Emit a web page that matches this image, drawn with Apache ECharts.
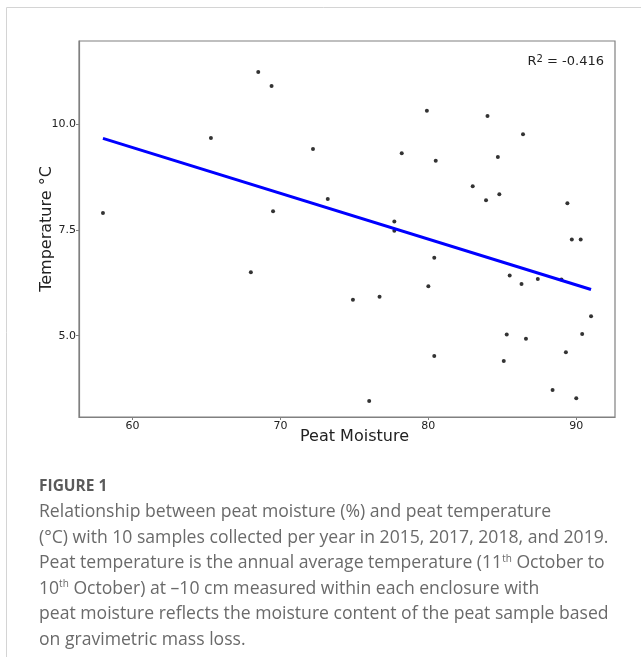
<!DOCTYPE html>
<html>
<head>
<meta charset="utf-8">
<script src="https://cdn.jsdelivr.net/npm/echarts@6/dist/echarts.min.js"></script>
<style>
  html, body { margin: 0; padding: 0; background: #fff; }
  #main { width: 641px; height: 657px; }
</style>
</head>
<body>
<div id="main"></div>
<script>
// peat moisture (%) and temperature (°C), 10 samples per year x 4 years
const moisture = [58.0, 68.5, 69.4, 65.3, 72.2, 73.2, 69.5, 79.9, 84.0, 86.4,
  78.2, 80.5, 84.7, 83.0, 83.9, 84.8, 89.4, 77.7, 77.7, 89.7,
  90.3, 80.4, 85.5, 86.3, 87.4, 89.0, 74.9, 76.7, 80.0, 91.0,
  85.3, 86.6, 90.4, 80.4, 85.1, 89.3, 88.4, 90.0, 76.0, 68.0]
const temperature = [7.90, 11.23, 10.90, 9.67, 9.41, 8.23, 7.94, 10.31, 10.19, 9.76,
  9.31, 9.13, 9.22, 8.53, 8.20, 8.34, 8.13, 7.70, 7.48, 7.27,
  7.27, 6.84, 6.42, 6.22, 6.34, 6.33, 5.85, 5.92, 6.17, 5.46,
  5.03, 4.93, 5.04, 4.52, 4.40, 4.61, 3.72, 3.52, 3.46, 6.50]

// fitted line end points
const fitX = [58.0, 91.0]
const fitY = [9.66, 6.09]

const xTicks = [60, 70, 80, 90]
const yTicks = [5.0, 7.5, 10.0]

const captionLines = [
  'Relationship between peat moisture (%) and peat temperature',
  '(\u00B0C) with 10 samples collected per year in 2015, 2017, 2018, and 2019.',
  'Peat temperature is the annual average temperature (11{sup|th} October to',
  '10{sup|th} October) at \u201310 cm measured within each enclosure with',
  'peat moisture reflects the moisture content of the peat sample based',
  'on gravimetric mass loss.'
]

const chart = echarts.init(document.getElementById('main'))

const tickFont = { fontFamily: 'DejaVu Sans', fontSize: 11, color: '#222' }
const nameFont = { fontFamily: 'DejaVu Sans', fontSize: 16, color: '#222' }

const option = {
  animation: false,
  grid: {
    left: 79, top: 41, width: 536, height: 376,
    show: true, borderColor: '#808080', borderWidth: 1.2,
    containLabel: false
  },
  xAxis: {
    type: 'value',
    min: 56.38, max: 92.62,
    name: 'Peat Moisture',
    nameLocation: 'middle',
    nameGap: 12,
    nameMoveOverlap: false,
    nameTextStyle: Object.assign({ padding: [0, 0, 0, 15] }, nameFont),
    axisLine: { show: true, lineStyle: { color: '#808080', width: 1.2 } },
    axisTick: { show: true, length: 3, customValues: xTicks, lineStyle: { color: '#808080' } },
    axisLabel: Object.assign({ customValues: xTicks, margin: 4 }, tickFont),
    splitLine: { show: false }
  },
  yAxis: {
    type: 'value',
    min: 3.08, max: 11.96,
    name: 'Temperature \u00B0C',
    nameLocation: 'middle',
    nameGap: 24,
    nameMoveOverlap: false,
    nameTextStyle: nameFont,
    axisLine: { show: true, lineStyle: { color: '#808080', width: 1.2 } },
    axisTick: { show: true, length: 3, customValues: yTicks, lineStyle: { color: '#808080' } },
    axisLabel: Object.assign({
      customValues: yTicks, margin: 3,
      formatter: v => v.toFixed(1)
    }, tickFont),
    splitLine: { show: false }
  },
  series: [
    {
      name: 'samples',
      type: 'scatter',
      symbol: 'circle',
      symbolSize: 4,
      itemStyle: { color: '#000' },
      data: moisture.map((m, i) => [m, temperature[i]]),
      z: 3
    },
    {
      name: 'fit',
      type: 'line',
      showSymbol: false,
      lineStyle: { color: '#0000ff', width: 3 },
      data: fitX.map((x, i) => [x, fitY[i]]),
      z: 4
    }
  ],
  graphic: [
    // figure frame
    { type: 'line', shape: { x1: 6.5, y1: 7.5, x2: 641, y2: 7.5 }, style: { stroke: '#d4d4d4', lineWidth: 1 } },
    { type: 'line', shape: { x1: 6.5, y1: 7.5, x2: 6.5, y2: 657 }, style: { stroke: '#d4d4d4', lineWidth: 1 } },
    {
      type: 'text', x: 604, y: 62,
      style: {
        text: 'R{sup|2} = -0.416',
        align: 'right', verticalAlign: 'middle',
        fontFamily: 'DejaVu Sans', fontSize: 13, fill: '#222',
        rich: { sup: { fontSize: 10, verticalAlign: 'top', padding: [0, 0, 6, 0], fontFamily: 'DejaVu Sans', fill: '#222' } }
      }
    },
    {
      type: 'text', x: 39, y: 487,
      style: {
        text: 'FIGURE 1', verticalAlign: 'middle',
        fontFamily: 'Open Sans', fontWeight: 'bold', fontSize: 15.5, fill: '#5a5a5a'
      }
    }
  ].concat(captionLines.map((t, i) => ({
    type: 'text', x: 39, y: 512 + i * 25.6,
    style: {
      text: t, verticalAlign: 'middle',
      fontFamily: 'Open Sans', fontSize: 17.6, fill: '#6a6a6a',
      rich: { sup: { fontSize: 10, verticalAlign: 'top', padding: [0, 0, 9, 0], fontFamily: 'Open Sans', fill: '#6a6a6a' } }
    }
  })))
}

chart.setOption(option)
</script>
</body>
</html>
